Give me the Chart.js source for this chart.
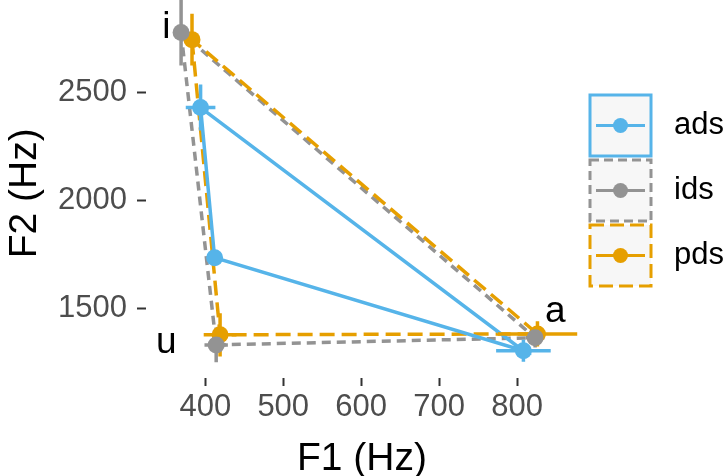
<!DOCTYPE html>
<html>
<head>
<meta charset="utf-8">
<script src="https://cdn.jsdelivr.net/npm/chart.js@4/dist/chart.umd.min.js"></script>
<style>
  html, body { margin: 0; padding: 0; background: #fff; }
  #wrap { width: 725px; height: 476px; position: relative; }
</style>
</head>
<body>
<div id="wrap"><canvas id="chart"></canvas></div>
<script>
// vowel order used by every array below
const VOWELS = ['i', 'u', 'a'];
const GROUPS = ['ads', 'ids', 'pds'];

// mean formants (Hz)
const ADS_F1 = [394, 412, 808];
const ADS_F2 = [2431, 1736, 1306];
const IDS_F1 = [369, 414, 823];
const IDS_F2 = [2778, 1333, 1366];
const PDS_F1 = [383, 419, 826];
const PDS_F2 = [2745, 1380, 1384];

// error bar half-widths (Hz)
const ADS_F1_ERR = [19, 7, 35];
const ADS_F2_ERR = [106, 37, 51];
const IDS_F1_ERR = [8, 15, 12];
const IDS_F2_ERR = [153, 80, 45];
const PDS_F1_ERR = [8, 21, 51];
const PDS_F2_ERR = [120, 100, 58];

// vowel label anchors
const LABEL_F1 = [350, 350, 849];
const LABEL_F2 = [2801, 1343, 1486];

const X_TICKS = [400, 500, 600, 700, 800];
const Y_TICKS = [1500, 2000, 2500];

const COLORS = { ads: '#56B4E9', ids: '#939393', pds: '#E69F00' };
const DASHES = { ads: [], ids: [9, 6], pds: [15, 7] };

const series = {
  ads: { f1: ADS_F1, f2: ADS_F2, e1: ADS_F1_ERR, e2: ADS_F2_ERR },
  ids: { f1: IDS_F1, f2: IDS_F2, e1: IDS_F1_ERR, e2: IDS_F2_ERR },
  pds: { f1: PDS_F1, f2: PDS_F2, e1: PDS_F1_ERR, e2: PDS_F2_ERR },
};

const pts = g => VOWELS.map((_, i) => ({ x: series[g].f1[i], y: series[g].f2[i] }));
const closed = g => [0, 1, 2, 0].map(i => ({ x: series[g].f1[i], y: series[g].f2[i] }));

const pointSets = GROUPS.map(g => ({
  label: g, data: pts(g), order: 0,
  showLine: false, pointRadius: 8.5, pointHoverRadius: 8.5,
  backgroundColor: COLORS[g], borderWidth: 0,
}));
// line datasets: drawn ids, pds, ads (last index drawn first)
const lineSets = ['ads', 'pds', 'ids'].map(g => ({
  label: g + '-path', data: closed(g), order: 1,
  showLine: true, pointRadius: 0, borderColor: COLORS[g], borderWidth: 3.5,
  borderDash: DASHES[g], fill: false,
}));

const errorBars = {
  id: 'errorBars',
  afterDatasetDraw(chart, args) {
    if (args.index !== 3) return;
    const { ctx, scales: { x, y } } = chart;
    ctx.save();
    ctx.lineWidth = 3.5;
    ctx.setLineDash([]);
    GROUPS.forEach(g => {
      const s = series[g];
      ctx.strokeStyle = COLORS[g];
      VOWELS.forEach((_, i) => {
        const px = x.getPixelForValue(s.f1[i]);
        const py = y.getPixelForValue(s.f2[i]);
        ctx.beginPath();
        ctx.moveTo(x.getPixelForValue(s.f1[i] - s.e1[i]), py);
        ctx.lineTo(x.getPixelForValue(s.f1[i] + s.e1[i]), py);
        ctx.moveTo(px, y.getPixelForValue(s.f2[i] - s.e2[i]));
        ctx.lineTo(px, y.getPixelForValue(s.f2[i] + s.e2[i]));
        ctx.stroke();
      });
    });
    ctx.restore();
  },
};

const vowelLabels = {
  id: 'vowelLabels',
  afterDatasetsDraw(chart) {
    const { ctx, scales: { x, y } } = chart;
    ctx.save();
    ctx.font = '37px "Liberation Sans", Arial, sans-serif';
    ctx.fillStyle = '#000';
    ctx.textAlign = 'center';
    ctx.textBaseline = 'middle';
    VOWELS.forEach((v, i) => {
      ctx.fillText(v, x.getPixelForValue(LABEL_F1[i]), y.getPixelForValue(LABEL_F2[i]));
    });
    ctx.restore();
  },
};

const boxLegend = {
  id: 'boxLegend',
  afterDraw(chart) {
    const { ctx } = chart;
    const left = 590, w = 61, h = 61, tops = [95, 160, 225];
    ctx.save();
    GROUPS.forEach((g, i) => {
      const top = tops[i];
      ctx.fillStyle = '#f7f7f7';
      ctx.fillRect(left, top, w, h);
      ctx.strokeStyle = COLORS[g];
      ctx.lineWidth = 3;
      ctx.setLineDash(DASHES[g].length ? (g === 'ids' ? [9, 5] : [14, 6]) : []);
      ctx.strokeRect(left, top, w, h);
      ctx.setLineDash([]);
      const cy = top + h / 2;
      ctx.beginPath();
      ctx.moveTo(left + 6, cy);
      ctx.lineTo(left + w - 6, cy);
      ctx.stroke();
      ctx.fillStyle = COLORS[g];
      ctx.beginPath();
      ctx.arc(left + w / 2, cy, 7.5, 0, Math.PI * 2);
      ctx.fill();
      ctx.fillStyle = '#000';
      ctx.font = '31px "Liberation Sans", Arial, sans-serif';
      ctx.textAlign = 'left';
      ctx.textBaseline = 'middle';
      ctx.fillText(g, 674, cy);
    });
    ctx.restore();
  },
};

const tickFont = { family: '"Liberation Sans", Arial, sans-serif', size: 31 };
const titleFont = { family: '"Liberation Sans", Arial, sans-serif', size: 39, lineHeight: 0.85 };

new Chart(document.getElementById('chart'), {
  type: 'scatter',
  data: { datasets: [...pointSets, ...lineSets] },
  options: {
    responsive: true, maintainAspectRatio: false, animation: false,
    layout: { padding: { top: 0, right: 147, bottom: 0, left: 0 } },
    plugins: { legend: { display: false }, tooltip: { enabled: false } },
    scales: {
      x: {
        type: 'linear', min: 324, max: 878,
        afterBuildTicks: s => { s.ticks = X_TICKS.map(v => ({ value: v })); },
        afterFit: s => { s.height = 98; s.paddingLeft = 0; s.paddingRight = 0; },
        grid: { drawOnChartArea: false, drawTicks: true, tickLength: 8, tickWidth: 2, tickColor: '#333' },
        border: { display: false },
        ticks: { font: tickFont, color: '#4d4d4d', padding: 3, maxRotation: 0, callback: v => String(v) },
        title: { display: true, text: 'F1 (Hz)', font: titleFont, color: '#000', padding: 0 },
      },
      y: {
        type: 'linear', min: 1180, max: 2889,
        afterBuildTicks: s => { s.ticks = Y_TICKS.map(v => ({ value: v })); },
        afterFit: s => { s.width = 146; s.paddingTop = 0; s.paddingBottom = 0; },
        grid: { drawOnChartArea: false, drawTicks: true, tickLength: 9, tickWidth: 2, tickColor: '#333' },
        border: { display: false },
        ticks: { font: tickFont, color: '#4d4d4d', padding: 10, callback: v => String(v) },
        title: { display: true, text: 'F2 (Hz)', font: titleFont, color: '#000', padding: { top: 9, bottom: 0 } },
      },
    },
  },
  plugins: [errorBars, vowelLabels, boxLegend],
});
</script>
</body>
</html>
